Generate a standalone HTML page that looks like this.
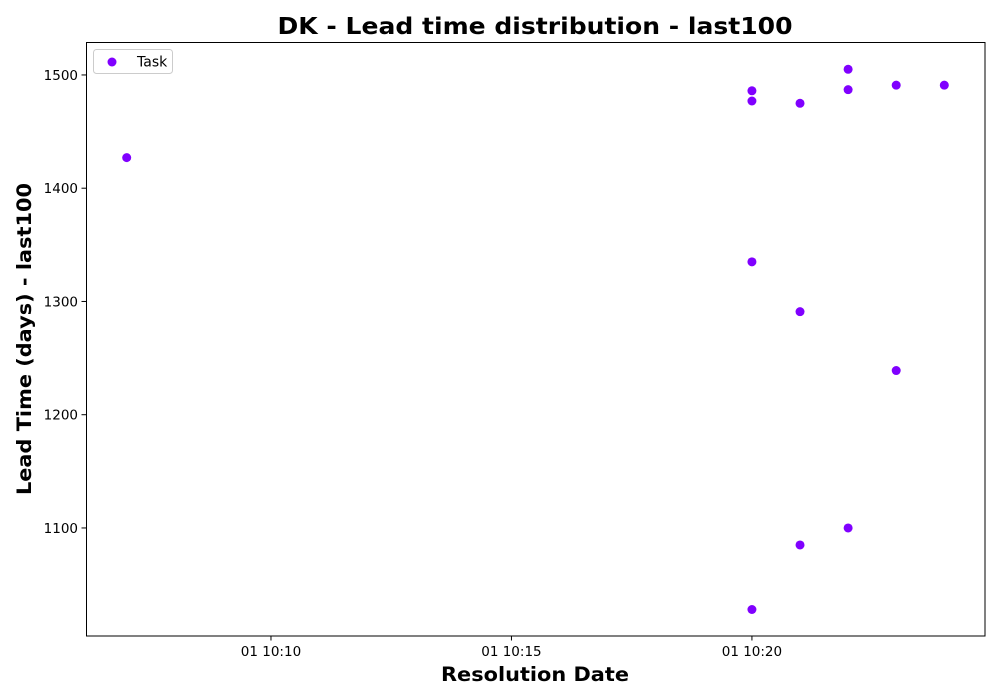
<!DOCTYPE html>
<html><head><meta charset="utf-8"><style>
html,body{margin:0;padding:0;background:#fff;}
svg{display:block;font-family:"DejaVu Sans","Liberation Sans",sans-serif;}
</style></head><body>
<svg id="chart" width="1000" height="700">
<text x="535" y="34" text-anchor="middle" font-size="23.5" font-weight="bold" textLength="515" lengthAdjust="spacingAndGlyphs">DK - Lead time distribution - last100</text>
<text x="535" y="681" text-anchor="middle" font-size="19.5" font-weight="bold" textLength="188" lengthAdjust="spacingAndGlyphs">Resolution Date</text>
<text transform="translate(31,339) rotate(-90)" text-anchor="middle" font-size="19.5" font-weight="bold" textLength="312" lengthAdjust="spacingAndGlyphs">Lead Time (days) - last100</text>
<g id="marks"></g>
<g id="axes"></g>
<rect x="86.5" y="42.5" width="898.5" height="593.5" fill="none" stroke="#000" stroke-width="1"/>
<g>
<rect x="93.5" y="49.5" width="79" height="24" rx="3" fill="#fff" stroke="#ccc"/>
<circle cx="112" cy="62" r="4.5" fill="#8000ff"/>
<text x="137" y="66.5" font-size="14">Task</text>
</g>
</svg>
<script>
const minutes = [7, 20, 20, 20, 20, 21, 21, 21, 22, 22, 22, 23, 23, 24];
const leadTimes = [1427, 1486, 1477, 1335, 1028, 1475, 1291, 1085, 1505, 1487, 1100, 1491, 1239, 1491];
const xTickMinutes = [10, 15, 20];
const xTickLabels = ["01 10:10", "01 10:15", "01 10:20"];
const yTicks = [1100, 1200, 1300, 1400, 1500];

const X0=86, X1=985, Y0=42, Y1=636;
const xMin=6.154, xMax=24.846, yMin=1004.6, yMax=1529.1;
function xs(m){return X0+(m-xMin)/(xMax-xMin)*(X1-X0);}
function ys(v){return Y1-(v-yMin)/(yMax-yMin)*(Y1-Y0);}
const NS="http://www.w3.org/2000/svg";
const marks=document.getElementById('marks'), axes=document.getElementById('axes');
minutes.forEach((m,i)=>{
  const c=document.createElementNS(NS,'circle');
  c.setAttribute('cx',xs(m));c.setAttribute('cy',ys(leadTimes[i]));c.setAttribute('r',4.5);c.setAttribute('fill','#8000ff');
  
  
  marks.appendChild(c);
});
xTickMinutes.forEach((m,i)=>{
  const x=xs(m);
  const l=document.createElementNS(NS,'line');
  l.setAttribute('x1',x);l.setAttribute('x2',x);l.setAttribute('y1',636);l.setAttribute('y2',640.5);l.setAttribute('stroke','#000');
  
  
  axes.appendChild(l);
  const t=document.createElementNS(NS,'text');
  t.setAttribute('x',x);t.setAttribute('y',656);t.setAttribute('text-anchor','middle');t.setAttribute('font-size','13.5');
  t.textContent=xTickLabels[i];
  
  
  axes.appendChild(t);
});
yTicks.forEach(v=>{
  const y=ys(v);
  const l=document.createElementNS(NS,'line');
  l.setAttribute('x1',81.5);l.setAttribute('x2',86);l.setAttribute('y1',y);l.setAttribute('y2',y);l.setAttribute('stroke','#000');
  
  
  axes.appendChild(l);
  const t=document.createElementNS(NS,'text');
  t.setAttribute('x',78);t.setAttribute('y',y+5);t.setAttribute('text-anchor','end');t.setAttribute('font-size','13.5');
  t.textContent=v;
  
  
  axes.appendChild(t);
});
</script>
</body></html>
